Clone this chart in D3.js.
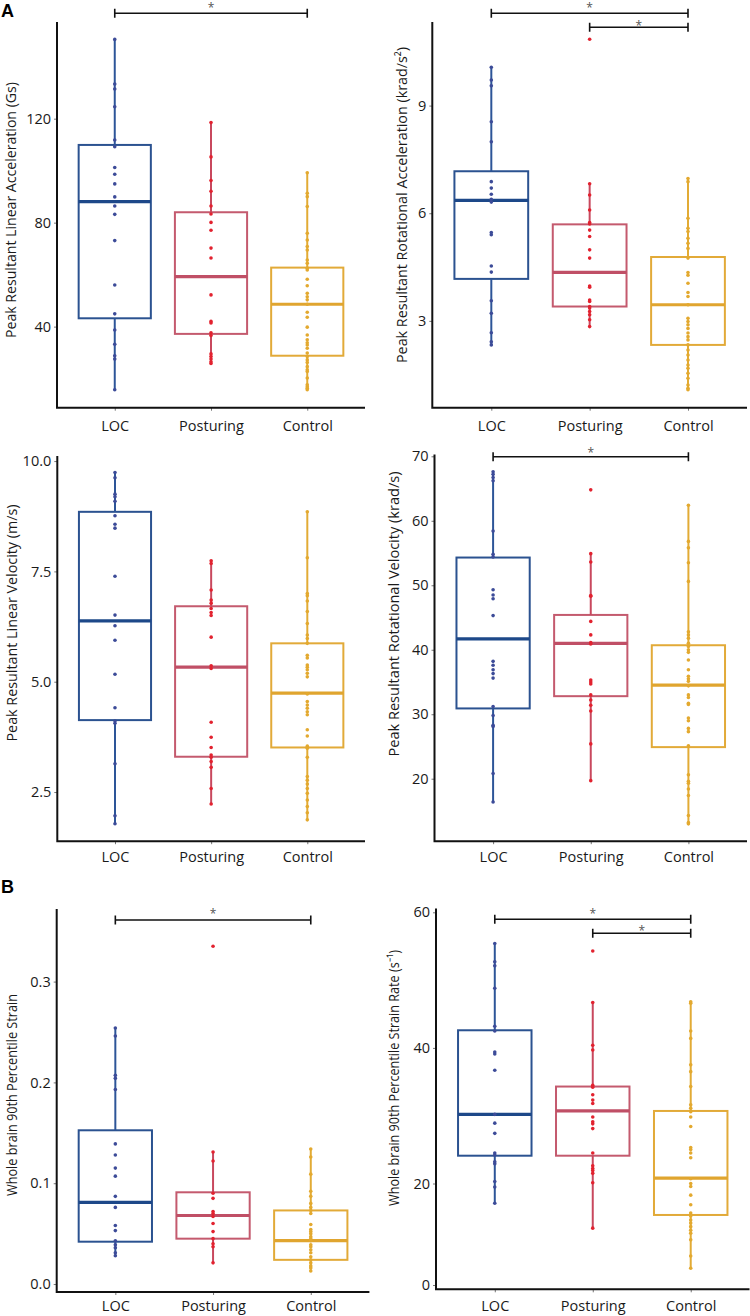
<!DOCTYPE html>
<html><head><meta charset="utf-8">
<script src="https://cdn.jsdelivr.net/npm/d3@7"></script>
<style>body{margin:0;background:#fff} svg{display:block} text{font-family:"Open Sans",sans-serif}</style>
</head><body><svg id="c" width="750" height="1316"></svg>
<script>
const categories = ["LOC", "Posturing", "Control"];

// Panel 1: Peak Resultant Linear Acceleration (Gs)
const linAccLOC = [150.5,133.3,131.4,124.6,111.8,109.2,101.2,98.6,94.9,89.9,86.4,83.2,73.1,56.0,44.9,38.7,33.2,28.8,27.5,15.7];
const linAccPost = [118.5,105.3,96.2,92.1,86.4,83.3,80.1,77.1,70.2,66.4,52.2,42.0,41.4,37.6,36.6,29.5,28.5,27.5,26.5,25.8];
const linAccCtrl = [99.2,91.3,90.0,86.2,75.9,73.3,70.8,69.5,65.6,64.4,62.5,61.8,58.2,55.7,52.8,51.5,50.3,48.6,45.5,43.6,39.8,36.8,34.9,33.8,32.9,31.7,29.8,28.5,27.2,26.2,24.6,23.4,22.7,20.2,17.6,16.9,16.3,15.7];
const linAccQ1 = [43.2, 37.2, 28.8], linAccMed = [88.1, 59.2, 48.6], linAccQ3 = [109.9, 84.0, 62.7];
const linAccLo = [15.7, 25.8, 15.7], linAccHi = [150.5, 118.5, 99.2];
const linAccTicks = [40, 80, 120];

// Panel 2: Peak Resultant Rotational Acceleration (krad/s2)
const rotAccLOC = [10.07,9.71,9.55,8.55,7.99,6.88,6.70,6.53,6.39,6.31,5.46,5.40,4.53,4.36,3.56,3.21,2.67,2.42,2.33];
const rotAccPost = [10.85,6.82,6.51,6.09,5.74,5.70,5.53,5.35,4.98,4.75,3.97,3.94,3.58,3.54,3.40,3.36,3.26,3.17,3.03,2.84];
const rotAccCtrl = [6.97,6.88,5.86,5.58,5.49,5.30,5.16,5.02,4.75,4.35,4.27,4.05,3.79,3.68,3.45,3.07,2.98,2.89,2.79,2.66,2.56,2.47,2.33,2.19,2.05,1.91,1.77,1.68,1.54,1.40,1.21,1.12,1.08];
const rotAccQ1 = [4.17, 3.40, 2.33], rotAccMed = [6.36, 4.35, 3.45], rotAccQ3 = [7.17, 5.69, 4.78];
const rotAccLo = [2.33, 2.84, 1.08], rotAccHi = [10.07, 6.82, 6.97];
const rotAccTicks = [3, 6, 9];

// Panel 3: Peak Resultant Linear Velocity (m/s)
const linVelLOC = [9.74,9.62,9.25,9.19,9.09,8.76,8.57,8.48,7.39,6.51,6.27,5.94,5.17,4.41,4.11,4.06,3.14,1.96,1.78];
const linVelPost = [7.74,7.68,7.08,6.85,6.78,6.66,6.57,6.50,6.01,5.36,5.30,4.08,3.74,3.51,3.34,3.29,3.19,3.06,2.58,2.23];
const linVelCtrl = [8.85,7.81,7.00,6.95,6.83,6.59,6.32,6.06,5.98,5.87,5.60,5.54,5.38,5.33,5.27,5.19,5.11,4.72,4.55,4.47,4.40,4.32,4.25,3.91,3.77,3.54,3.49,3.29,2.85,2.77,2.68,2.58,2.47,2.32,2.17,2.03,1.87];
const linVelQ1 = [4.13, 3.30, 3.51], linVelMed = [6.38, 5.33, 4.74], linVelQ3 = [8.85, 6.71, 5.87];
const linVelLo = [1.78, 2.23, 1.87], linVelHi = [9.74, 7.74, 8.85];
const linVelTicks = [2.5, 5.0, 7.5, 10.0];

// Panel 4: Peak Resultant Rotational Velocity (krad/s)
const rotVelLOC = [67.6,67.2,66.7,66.2,58.4,54.8,54.4,49.3,48.5,47.9,45.3,38.2,37.6,36.9,36.3,35.6,31.2,29.8,28.3,28.1,20.8,16.4];
const rotVelPost = [64.8,54.9,53.6,48.4,48.3,44.4,42.3,41.1,40.9,35.3,35.0,34.7,33.0,32.2,31.4,30.5,25.4,19.7];
const rotVelCtrl = [62.4,56.8,55.8,53.5,50.6,42.8,42.3,41.8,41.0,40.5,40.0,39.6,38.4,36.9,35.9,35.5,35.1,34.4,33.0,32.6,31.7,31.5,29.4,29.0,27.8,27.3,25.1,20.6,19.6,19.3,18.4,17.4,14.3,13.2,13.0];
const rotVelQ1 = [30.9, 32.8, 24.9], rotVelMed = [41.7, 41.0, 34.5], rotVelQ3 = [54.3, 45.4, 40.7];
const rotVelLo = [16.4, 19.7, 13.0], rotVelHi = [67.6, 54.9, 62.4];
const rotVelTicks = [20, 30, 40, 50, 60, 70];

// Panel 5: Whole brain 90th Percentile Strain
const strainLOC = [0.254,0.246,0.207,0.204,0.193,0.139,0.128,0.115,0.107,0.087,0.076,0.058,0.053,0.043,0.039,0.036,0.031,0.028];
const strainPost = [0.335,0.131,0.122,0.090,0.085,0.072,0.070,0.067,0.060,0.052,0.045,0.040,0.037,0.021];
const strainCtrl = [0.134,0.126,0.109,0.092,0.087,0.080,0.076,0.073,0.070,0.059,0.054,0.052,0.050,0.047,0.045,0.043,0.039,0.037,0.034,0.031,0.027,0.024,0.021,0.018,0.016,0.013];
const strainQ1 = [0.042, 0.045, 0.024], strainMed = [0.081, 0.068, 0.043], strainQ3 = [0.1525, 0.091, 0.073];
const strainLo = [0.028, 0.021, 0.013], strainHi = [0.254, 0.131, 0.134];
const strainTicks = [0.0, 0.1, 0.2, 0.3];

// Panel 6: Whole brain 90th Percentile Strain Rate (s-1)
const rateLOC = [55.4,52.7,52.1,48.8,43.2,42.5,39.4,39.1,36.7,30.2,28.9,27.4,24.5,24.2,23.2,22.9,20.3,19.3,16.1];
const ratePost = [54.3,46.7,40.4,39.7,34.5,34.2,33.1,32.3,31.8,29.8,29.1,28.8,28.1,24.5,22.6,22.2,21.9,21.5,20.1,11.2];
const rateCtrl = [46.8,46.6,42.5,41.4,37.5,36.5,34.3,31.6,31.1,30.6,29.8,28.4,25.3,25.0,24.5,23.8,20.7,20.0,19.4,17.7,15.8,14.2,13.6,12.8,12.2,11.5,10.8,10.2,8.9,5.7,3.3];
const rateQ1 = [24.1, 24.1, 13.8], rateMed = [30.2, 30.7, 20.8], rateQ3 = [42.6, 34.3, 30.7];
const rateLo = [16.1, 11.2, 3.3], rateHi = [55.4, 46.7, 46.8];
const rateTicks = [0, 20, 40, 60];

// ---- styles ----
const boxStroke = ["#2b5290", "#c45a6e", "#e2aa38"];
const medStroke = ["#1d4889", "#c04f66", "#e0a52f"];
const whiskStroke = ["#2d5598", "#c8485e", "#e2ab35"];
const dotFill = ["#3c4b98", "#e2222f", "#e3a92f"];

const svg = d3.select("#c");

const panels = [
  {series:[linAccLOC,linAccPost,linAccCtrl], q1:linAccQ1, med:linAccMed, q3:linAccQ3, lo:linAccLo, hi:linAccHi, ticks:linAccTicks, fmt:d3.format("d"),
   left:57, right:365, top:22, bottom:407.7, xpad:10, y:d3.scaleLinear().domain([8.8,157.2]).range([407.7,22]),
   label:"Peak Resultant Linear Acceleration (Gs)", lx:11, ly:210, llen:256, sig:[[0,2,13.3,10]]},
  {series:[rotAccLOC,rotAccPost,rotAccCtrl], q1:rotAccQ1, med:rotAccMed, q3:rotAccQ3, lo:rotAccLo, hi:rotAccHi, ticks:rotAccTicks, fmt:d3.format("d"),
   left:432.3, right:747, top:22, bottom:407.7, xpad:10, y:d3.scaleLinear().domain([0.58,11.33]).range([407.7,22]),
   label:"Peak Resultant Rotational Acceleration (krad/s\u00B2)", lx:402, ly:205, llen:316, sig:[[0,2,13.3,10],[1,2,27.3,5.5]]},
  {series:[linVelLOC,linVelPost,linVelCtrl], q1:linVelQ1, med:linVelMed, q3:linVelQ3, lo:linVelLo, hi:linVelHi, ticks:linVelTicks, fmt:d3.format(".1f"),
   left:57.3, right:365, top:456, bottom:841.2, xpad:8, y:d3.scaleLinear().domain([1.386,10.115]).range([841.2,456]),
   label:"Peak Resultant Linear Velocity (m/s)", lx:12, ly:623, llen:237, sig:[]},
  {series:[rotVelLOC,rotVelPost,rotVelCtrl], q1:rotVelQ1, med:rotVelMed, q3:rotVelQ3, lo:rotVelLo, hi:rotVelHi, ticks:rotVelTicks, fmt:d3.format("d"),
   left:434.5, right:747, top:454.5, bottom:841.2, xpad:8, y:d3.scaleLinear().domain([10.31,70.28]).range([841.2,454.5]),
   label:"Peak Resultant Rotational Velocity (krad/s)", lx:394, ly:614, llen:285, sig:[[0,2,456.7,8.5]]},
  {series:[strainLOC,strainPost,strainCtrl], q1:strainQ1, med:strainMed, q3:strainQ3, lo:strainLo, hi:strainHi, ticks:strainTicks, fmt:d3.format(".1f"),
   left:56.7, right:369.4, top:909, bottom:1292, xpad:6, y:d3.scaleLinear().domain([-0.0079,0.372]).range([1292,909]),
   label:"Whole brain 90th Percentile Strain", lx:12, ly:1095, llen:202, sig:[[0,2,920,11]]},
  {series:[rateLOC,ratePost,rateCtrl], q1:rateQ1, med:rateMed, q3:rateQ3, lo:rateLo, hi:rateHi, ticks:rateTicks, fmt:d3.format("d"),
   left:436, right:749.5, top:908.5, bottom:1289.3, xpad:8.5, y:d3.scaleLinear().domain([0,20,60]).range([1285,1183.5,912.3]),
   label:"Whole brain 90th Percentile Strain Rate (s\u207B\u00B9)", lx:394, ly:1078, llen:256, sig:[[0,2,919.3,10],[1,2,933.3,6.5]]}
];

panels.forEach(p => {
  const g = svg.append("g");
  const x = d3.scalePoint().domain(categories).range([p.left, p.right]).padding(0.6);
  const bw = x.step() * 0.75;
  const y = p.y;

  // y axis
  const ya = g.append("g").attr("transform", `translate(${p.left},0)`)
    .call(d3.axisLeft(y).tickValues(p.ticks).tickFormat(p.fmt).tickSize(3).tickPadding(3));
  ya.select(".domain").remove();
  ya.selectAll(".tick line").attr("stroke", "#777").attr("stroke-width", 1);
  ya.selectAll(".tick text").attr("font-size", 14.5).attr("fill", "#1a1a1a").style("font-family", '"Open Sans",sans-serif');

  // x axis
  const xa = g.append("g").attr("transform", `translate(0,${p.bottom})`)
    .call(d3.axisBottom(x).tickSize(3).tickPadding(p.xpad));
  xa.select(".domain").remove();
  xa.selectAll(".tick line").attr("stroke", "#777").attr("stroke-width", 1);
  xa.selectAll(".tick text").attr("font-size", 14.5).attr("fill", "#1a1a1a").style("font-family", '"Open Sans",sans-serif');

  // axis lines
  g.append("path").attr("d", `M${p.left},${p.top}V${p.bottom}H${p.right}`)
    .attr("fill", "none").attr("stroke", "#111").attr("stroke-width", 2);

  // y label
  g.append("text").attr("transform", `translate(${p.lx},${p.ly}) rotate(-90)`)
    .attr("text-anchor", "middle").attr("dy", "0.35em")
    .attr("font-size", 15).attr("fill", "#1a1a1a")
    .attr("textLength", p.llen).attr("lengthAdjust", "spacingAndGlyphs")
    .text(p.label);

  categories.forEach((c, i) => {
    const cx = x(c);
    // box
    g.append("rect").attr("x", cx - bw / 2).attr("y", y(p.q3[i]))
      .attr("width", bw).attr("height", y(p.q1[i]) - y(p.q3[i]))
      .attr("fill", "#fff").attr("stroke", boxStroke[i]).attr("stroke-width", 2);
    // whiskers
    g.append("line").attr("x1", cx).attr("x2", cx).attr("y1", y(p.hi[i])).attr("y2", y(p.q3[i]))
      .attr("stroke", whiskStroke[i]).attr("stroke-width", 2);
    g.append("line").attr("x1", cx).attr("x2", cx).attr("y1", y(p.q1[i])).attr("y2", y(p.lo[i]))
      .attr("stroke", whiskStroke[i]).attr("stroke-width", 2);
    // median
    g.append("line").attr("x1", cx - bw / 2).attr("x2", cx + bw / 2)
      .attr("y1", y(p.med[i])).attr("y2", y(p.med[i]))
      .attr("stroke", medStroke[i]).attr("stroke-width", 3.2);
    // points
    g.selectAll(null).data(p.series[i]).enter().append("circle")
      .attr("cx", cx).attr("cy", d => y(d)).attr("r", 1.8)
      .attr("fill", dotFill[i]);
  });

  // significance bars
  p.sig.forEach(([a, b, yy, off]) => {
    const x1 = x(categories[a]), x2 = x(categories[b]);
    g.append("path").attr("d", `M${x1},${yy - 4.5}V${yy + 4.5}M${x1},${yy}H${x2}M${x2},${yy - 4.5}V${yy + 4.5}`)
      .attr("fill", "none").attr("stroke", "#111").attr("stroke-width", 1.6);
    g.append("text").attr("x", (x1 + x2) / 2).attr("y", yy - off + 8.5)
      .attr("text-anchor", "middle").attr("font-size", 12).attr("fill", "#555").text("*");
  });
});

// panel letters
svg.append("text").attr("x", 1).attr("y", 17).attr("font-size", 18).attr("font-weight", "bold")
  .style("font-family", '"Liberation Sans",Arial,sans-serif').attr("fill", "#000").text("A");
svg.append("text").attr("x", 1).attr("y", 893).attr("font-size", 18).attr("font-weight", "bold")
  .style("font-family", '"Liberation Sans",Arial,sans-serif').attr("fill", "#000").text("B");
</script>
</body></html>
